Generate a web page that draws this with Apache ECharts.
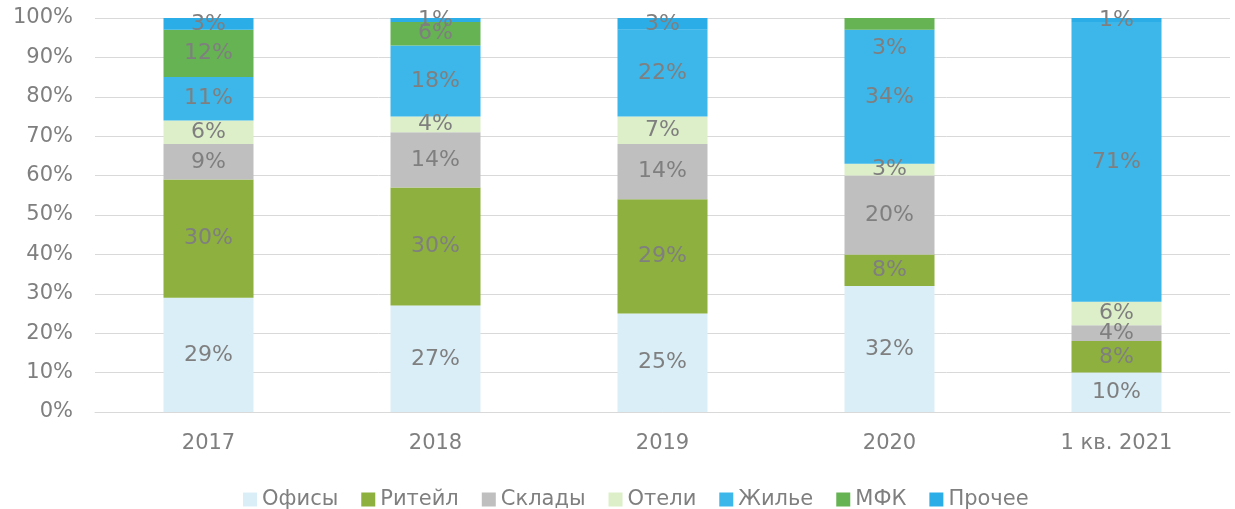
<!DOCTYPE html>
<html lang="ru">
<head>
    <meta charset="UTF-8">
    <title>Структура</title>
    <script src="https://cdn.jsdelivr.net/npm/echarts@6/dist/echarts.min.js"></script>
    <style>
        html, body { margin: 0; padding: 0; background: #fff; }
        #chart1 { width: 1235px; height: 509px; }
    </style>
</head>
<body>
<div id="chart1"></div>
<script>
    var categories = ['2017', '2018', '2019', '2020', '1 кв. 2021'];
    var seriesNames = ['Офисы', 'Ритейл', 'Склады', 'Отели', 'Жилье', 'МФК', 'Прочее'];
    var offices = [29, 27, 25, 32, 10];
    var retail = [30, 30, 29, 8, 8];
    var warehouses = [9, 14, 14, 20, 4];
    var hotels = [6, 4, 7, 3, 6];
    var housing = [11, 18, 22, 34, 71];
    var mfk = [12, 6, 0, 3, 0];
    var other = [3, 1, 3, 0, 1];
    var yTicks = [0, 10, 20, 30, 40, 50, 60, 70, 80, 90, 100];

    var colors = ['#DAEEF8', '#8DB03F', '#BFBFBF', '#DCEFC8', '#3DB7E9', '#66B353', '#2BAEE8'];
    var allData = [offices, retail, warehouses, hotels, housing, mfk, other];
    var fontFam = '"DejaVu Sans", Verdana, sans-serif';

    var series = seriesNames.map(function (name, i) {
        return {
            name: name,
            type: 'bar',
            stack: 'total',
            barWidth: 90,
            itemStyle: { color: colors[i] },
            label: {
                show: true,
                position: 'inside',
                color: '#7F7F7F',
                fontSize: 22,
                fontFamily: fontFam,
                formatter: function (p) { return p.value > 0 ? p.value + '%' : ''; }
            },
            data: allData[i].map(function (v, j) {
                // в 2020 подпись МФК сдвинута внутрь сегмента Жилье
                if (name === 'МФК' && j === 3) {
                    return { value: v, label: { offset: [0, 24] } };
                }
                return v;
            })
        };
    });

    var myChart1 = echarts.init(document.getElementById('chart1'));
    var option1 = {
        animation: false,
        textStyle: { fontFamily: fontFam },
        grid: { left: 95, right: 5, top: 18, bottom: 97, containLabel: false },
        legend: {
            top: 484,
            left: 238,
            itemWidth: 14,
            itemHeight: 14,
            itemGap: 23,
            icon: 'rect',
            textStyle: { color: '#7F7F7F', fontSize: 21, fontFamily: fontFam },
            data: seriesNames
        },
        xAxis: {
            type: 'category',
            data: categories,
            axisLine: { lineStyle: { color: '#D9D9D9' } },
            axisTick: { show: false },
            axisLabel: { color: '#7F7F7F', fontSize: 21, margin: 21, fontFamily: fontFam }
        },
        yAxis: {
            type: 'value',
            min: yTicks[0],
            max: yTicks[yTicks.length - 1],
            interval: 10,
            axisLine: { show: false },
            axisTick: { show: false },
            splitLine: { lineStyle: { color: '#D9D9D9' } },
            axisLabel: { color: '#7F7F7F', fontSize: 21, margin: 22, fontFamily: fontFam, formatter: '{value}%' }
        },
        series: series
    };
    myChart1.setOption(option1);
</script>
</body>
</html>
